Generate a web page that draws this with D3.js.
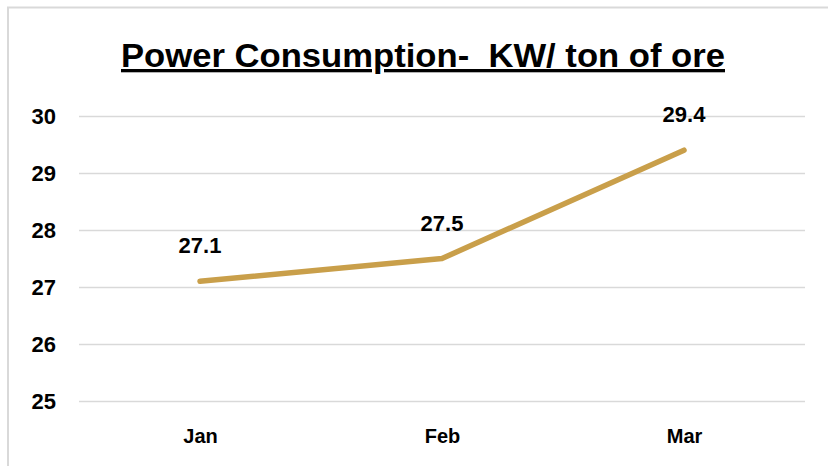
<!DOCTYPE html>
<html>
<head>
<meta charset="utf-8">
<script src="https://cdn.jsdelivr.net/npm/d3@7"></script>
<style>
  body { margin: 0; background: #fff; }
  svg { display: block; font-family: "Liberation Sans", Arial, sans-serif; }
</style>
</head>
<body>
<svg id="chart" width="828" height="466"></svg>
<script>
// chart data
var months = ["Jan", "Feb", "Mar"];
var power = [27.1, 27.5, 29.4];
var yTicks = [25, 26, 27, 28, 29, 30];
var title = "Power Consumption-\u00a0 KW/ ton of ore";

var svg = d3.select("#chart");
var margin = {left: 79, right: 23, top: 116, bottom: 65};
var W = 828, H = 466;

// outer frame (left + top only are visible)
svg.append("path")
  .attr("d", "M8,466 V7.5 H828")
  .attr("fill", "none")
  .attr("stroke", "#d9d9d9")
  .attr("stroke-width", 2);

var x = d3.scalePoint()
  .domain(months)
  .range([margin.left, W - margin.right])
  .padding(0.5);

var y = d3.scaleLinear()
  .domain([25, 30])
  .range([H - margin.bottom, margin.top]);

// gridlines
var yAxis = d3.axisLeft(y)
  .tickValues(yTicks)
  .tickSize(-(W - margin.left - margin.right))
  .tickPadding(23)
  .tickFormat(d3.format("d"));

var gy = svg.append("g")
  .attr("transform", "translate(" + margin.left + ",0)")
  .call(yAxis);
gy.select(".domain").remove();
gy.selectAll(".tick line").attr("stroke", "#d9d9d9").attr("stroke-width", 1.6);
gy.selectAll(".tick text")
  .attr("fill", "#000")
  .attr("dy", "0.36em")
  .style("font-size", "22px")
  .style("font-weight", "bold");

var xAxis = d3.axisBottom(x).tickSize(0).tickPadding(0);
var gx = svg.append("g")
  .attr("transform", "translate(0," + (H - 23) + ")")
  .call(xAxis);
gx.select(".domain").remove();
gx.selectAll(".tick text")
  .attr("dy", null)
  .attr("fill", "#000")
  .style("font-size", "20px")
  .style("font-weight", "bold");

// the line
var line = d3.line()
  .x(function(d, i) { return x(months[i]); })
  .y(function(d) { return y(d); });

svg.append("path")
  .datum(power)
  .attr("d", line)
  .attr("fill", "none")
  .attr("stroke", "#c99f4a")
  .attr("stroke-width", 5.5)
  .attr("stroke-linecap", "round")
  .attr("stroke-linejoin", "round");

// value labels
svg.selectAll("text.val")
  .data(power)
  .enter()
  .append("text")
  .attr("class", "val")
  .attr("x", function(d, i) { return x(months[i]); })
  .attr("y", function(d) { return y(d) - 28; })
  .attr("text-anchor", "middle")
  .style("font-size", "22px")
  .style("font-weight", "bold")
  .text(function(d) { return d3.format(".1f")(d); });

// title
svg.append("text")
  .attr("x", 423)
  .attr("y", 67)
  .attr("text-anchor", "middle")
  .attr("textLength", 604)
  .attr("lengthAdjust", "spacingAndGlyphs")
  .style("font-size", "33px")
  .style("font-weight", "bold")
  .style("text-decoration", "underline")
  .text(title);
</script>
</body>
</html>
